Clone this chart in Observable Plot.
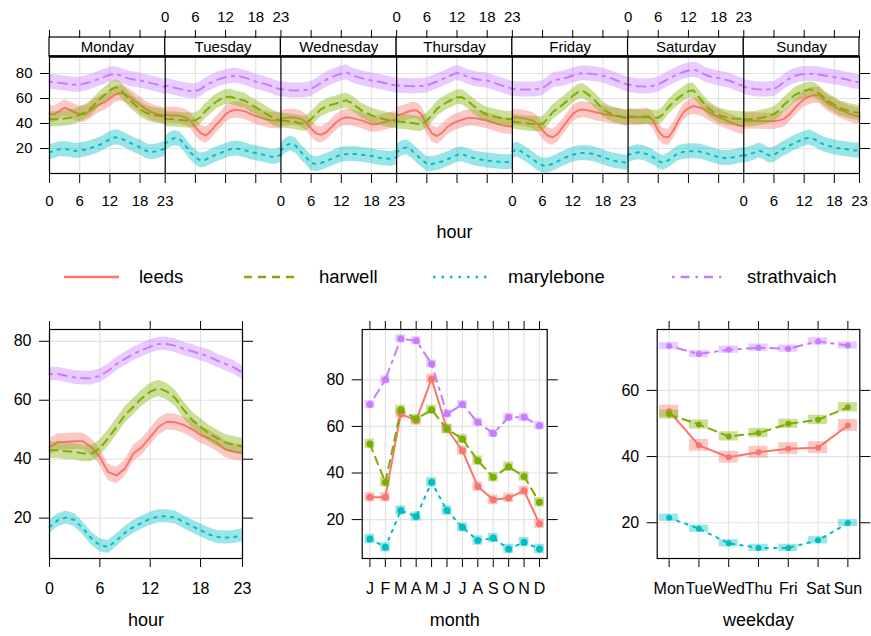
<!DOCTYPE html>
<html><head><meta charset="utf-8">
<script src="https://cdn.jsdelivr.net/npm/d3@7"></script>
<script src="https://cdn.jsdelivr.net/npm/@observablehq/plot@0.6"></script>
<style>
body{margin:0;background:#fff;}
#wrap{position:relative;width:871px;height:636px;overflow:hidden;font-family:"Liberation Sans",Arial,sans-serif;color:#000;}
#legend .item{position:absolute;top:266px;height:22px;display:flex;align-items:center;font-size:18.5px;line-height:22px;white-space:nowrap;}
#legend svg{margin-right:20px;}
</style></head><body><div id="wrap"><div id="legend"></div></div>
<script>
// ---------- data ----------
const series = ["leeds", "harwell", "marylebone", "strathvaich"];
const seriesColors = ["#F8766D", "#7CAE00", "#00BFC4", "#C77CFF"];
const seriesDash = [undefined, "8,6", "2.5,6", "2.5,6,9,6"];
const dayNames = ["Monday", "Tuesday", "Wednesday", "Thursday", "Friday", "Saturday", "Sunday"];
const hourTicks = [0, 6, 12, 18, 23];
const monthLabels = ["J", "F", "M", "A", "M", "J", "J", "A", "S", "O", "N", "D"];
const weekdayLabels = ["Mon", "Tue", "Wed", "Thu", "Fri", "Sat", "Sun"];

// day.hour means, one row per weekday (Mon..Sun), 24 hours each
const leedsDayHour = [
 [47.5,47.5,50,52.5,51,49,47.5,47.5,50,53,55.5,57,60,63,64.5,63.5,61,58,55,52,49.5,48,47,46],
 [47,46.5,46.5,46,45,42.5,37,32.5,30.5,33.5,38.5,42.5,47.5,50,51,50.5,49.5,47.5,46,44.5,43.5,42.5,42.5,42],
 [43.7,44.5,45,44.5,43.7,41,36,32,31,33,37,41,43.7,45,44.5,43.5,42.5,41,39.5,39.5,40.5,41.5,42.5,43.5],
 [46.4,47.5,49,50.4,50.4,47,38.5,32,30,32.5,37,39.7,41.6,43,44.3,44.5,44,43.2,42.4,41,39.7,38.5,37.9,37.5],
 [45,44.7,44.3,43.5,42.4,39.7,34.4,30.4,29,31.7,37,42.4,47.7,50.4,51.2,50.5,49.6,48.6,47.7,47,46.4,45.7,45,44.3],
 [45,45,45,45.5,45.9,42.4,34,29.5,29,34.4,42.4,49,52.3,54,53,51.7,49,47,45,43.3,41.6,40,38.4,37.8],
 [41.8,42,42.2,42,41.8,41.8,41.8,42.5,43.7,47,51.7,56,59.7,61.5,62.7,62.5,58.5,55.5,53.5,51,49.6,47.7,46.4,45.8]
];
const harwellDayHour = [
 [43.5,43.5,43.5,44,44.5,45.5,47,49,51.5,55.5,59.5,63,66.5,69,68,63,58.5,55,51.5,49,47.5,46.5,46,45],
 [43.7,43.5,43.2,42.8,42.4,42.4,42.4,45,50,53.5,57,59.5,61,61.5,60,59,58,55,53,50.5,48,45.5,43.5,42.4],
 [42.4,42,41.6,41,40,40,43.5,47.5,51.5,53.5,55,56,57.5,58.5,56.5,53.5,50.5,48.5,46.5,45,44,43,42.4,41.8],
 [41.6,41.3,41,40.5,39.8,39.7,42.4,46.4,51.7,54.5,57,59,61,61,58.5,55,51.7,49,47,46,45,44.3,43.7,43.7],
 [41.6,41,40.5,40,39.7,39.5,39.7,43.7,49,52,55,58.5,62,65,66,63.5,60,56,51.5,49,47,46,45,44.3],
 [45.8,45.5,45,45,45,44.7,44.5,47.5,53,57,60.5,63.5,66,66.5,61.5,56.5,52,49,46.7,45.5,44.5,44,43.7,43.5],
 [43.5,43.5,43.7,44.2,45,46,47.5,50.5,55,58.5,62.4,64.5,66,67.3,66.8,64,60.5,57.5,55,52.5,51.2,50,49,48.5]
];
const maryleboneDayHour = [
 [17,18,19.5,19.5,19,18,18.5,19,20.3,21.5,23,25,27.5,29,28.5,26.5,24.5,22.5,21,18.5,17,17.5,18.5,20],
 [24,27,28.5,27,22.5,17,13,10.5,11,13,15,16.5,18,19.5,20,19.5,18.5,17,16.5,15.5,14.5,13.5,13.5,15],
 [18.5,22.5,24,22,17,13,8.5,7.5,8.5,10,11.7,13.5,15,15.5,15.7,15.5,15,14.5,14,13,12.3,12,11.7,13],
 [17,20,21,18.5,14.5,11.2,7.7,7.7,8.5,9.6,11.2,13,14.8,15.5,14,12.8,11.7,11,10.4,10,9.6,9.3,9.1,9.5],
 [17.6,19.2,17,14.4,11.7,8.5,6.4,6.5,7.7,9.7,11.7,13.5,15,16,16.5,16.2,15.7,14.4,13,11.7,10.4,9.7,9.1,8.5],
 [15,16,17,16.5,15,13,10,8.5,10.5,13.5,16.5,17.3,17.8,17.8,17.7,16.8,15.7,14.3,13,12.5,12.5,13,14,14.7],
 [14,15.5,16.5,18.4,17,14.5,15,17.5,20,22,24.5,26,27.7,28.8,27.5,25,23,22,21,20,19.7,19,18.4,18.4]
];
const strathvaichDayHour = [
 [73.5,73,72.5,72,71.5,71,71,72,73,74.5,76,77.5,79,79.5,78.5,77,75.7,75,74.5,73.5,72.5,71.5,70.5,69],
 [70.4,69.5,68.5,67.5,66.7,66,65.8,67.5,70.4,72.5,74.4,76,77,77.8,78.2,77.5,76.5,75,73.5,72.5,71.5,70,68.5,67],
 [67.5,67,66.5,66.4,66.4,66.8,67.7,70,72.5,75,77,78.5,80,81,79,77.5,76.3,75.3,74.4,73.7,73,72,71,70.4],
 [70.4,70.2,70,69.9,69.9,70,70.4,72,73.6,75.3,77,79,80.5,79.5,77.5,76.2,75.2,74.8,74.4,73,71.7,70.3,69,67.7],
 [67.7,67.5,67.2,67.2,67.2,67.6,68.3,71,74.4,75.2,75.7,77,78.4,79.5,80.3,80,79.7,79,78.2,77,75.7,74,72.5,71],
 [71,70.5,69.8,69.7,69.7,70.2,71.3,73.5,75.7,77.7,79.7,81.2,82.4,83,82,79.7,78,77,76.3,75.3,74.4,72.8,71.2,70],
 [69.2,68.5,67.7,67.3,67.2,67.3,67.7,70,73.4,75.8,77.9,79,79.7,79.8,79.7,79.2,78.4,77.7,77,76.4,75.7,74.6,73.6,73]
];

// hour means
const leedsHour = [44.1,45.8,45.9,46.1,46.1,44.1,40.7,35.6,34.5,36.8,41.9,44.1,47.5,51,52.7,52.5,51.6,50.1,48.2,47.1,45.4,43.3,42.5,42.2];
const harwellHour = [43,43,42.7,42.5,41.9,41.9,43.7,47.1,51,55,57.8,60.7,62.9,64.1,62.9,60.7,56.7,53.3,51,48.8,47.1,45.6,44.8,44.3];
const maryleboneHour = [17,19.3,20.2,19.3,16.5,13.1,10.8,10.2,12.5,15,17,18.4,19.8,20.6,20.6,20.2,18.7,17.2,15.9,14.5,13.6,13.4,13.6,14.2];
const strathvaichHour = [68.9,68.9,68.3,67.7,67.5,67.5,68.3,70,72.3,74,75.7,77,78.2,79.1,79.1,78.5,77.4,76.6,75.7,74.8,73.4,72.3,71.1,69.4];

// month means
const leedsMonth = [29.6,29.6,65.4,62.5,80.4,58.9,49.6,34.2,28.5,29.3,32.4,18.2];
const harwellMonth = [52.5,36,67.1,63.2,67.1,58.9,54.6,45.3,38.2,42.7,38.5,27.4];
const maryleboneMonth = [11.7,8.1,23.9,21.3,36,23.9,16.7,11,12.1,7.4,10.3,7.4];
const strathvaichMonth = [69.4,80,97.6,96.8,86.8,65.4,69.4,61.8,57,63.9,63.9,60.3];

// weekday means
const leedsWeekday = [53.7,43.4,39.8,41.3,42.4,42.7,49.4];
const harwellWeekday = [52.7,49.7,46.1,47.1,49.9,51.1,54.9];
const maryleboneWeekday = [21.5,18.2,13.8,12.4,12.4,14.7,19.9];
const strathvaichWeekday = [73.4,71,72.3,72.9,72.6,74.8,73.6];

// confidence half-widths per series
const ciDayHour = [6.5, 6, 6, 6];
const ciHour = [2.8, 2.8, 2.2, 2.3];
const ciMonth = [2, 2, 2, 1.7];
const ciWeekday = [1.8, 1.4, 1.1, 1.1];

// ---------- build ----------
const GRID = "#e3e3e3";
const FONT = '"Liberation Sans", Arial, sans-serif';
const HSPAN = 23;
const wrap = document.getElementById("wrap");

function place(svg, left, top) {
  svg.style.position = "absolute";
  svg.style.left = left + "px";
  svg.style.top = top + "px";
  svg.style.background = "transparent";
  svg.style.overflow = "visible";
  svg.style.fontFamily = FONT;
  svg.style.maxWidth = "none";
  wrap.appendChild(svg);
}

const dayHourAll = [leedsDayHour, harwellDayHour, maryleboneDayHour, strathvaichDayHour];
const topRows = series.flatMap((s, si) => dayHourAll[si].flatMap((vals, d) =>
  vals.map((v, h) => ({si, d, x: d * HSPAN + h, v, lo: v - ciDayHour[si], hi: v + ciDayHour[si]}))));

const allTopTicks = Array.from(new Set(d3.range(7).flatMap(d => hourTicks.map(h => d * HSPAN + h))));
function labelMap(days) {
  const m = new Map();
  days.forEach(d => hourTicks.forEach(h => m.set(d * HSPAN + h, String(h))));
  return m;
}
const bottomLab = labelMap([0, 2, 4, 6]);
const topLab = labelMap([1, 3, 5]);
const gridTop = d3.range(7).flatMap(d => [6, 12, 18].map(h => d * HSPAN + h));
const ticksTopY = [20, 40, 60, 80];

const topMain = Plot.plot({
  width: 871, height: 250, marginLeft: 49, marginRight: 12, marginTop: 56, marginBottom: 77,
  x: {domain: [0, 7 * HSPAN], axis: null}, y: {domain: [0, 93.6], axis: null},
  marks: [
    Plot.ruleX(gridTop, {x: d => d, stroke: GRID, strokeWidth: 1.2}),
    Plot.ruleY(ticksTopY, {y: d => d, stroke: GRID, strokeWidth: 1.2}),
    ...series.flatMap((s, si) => {
      const rows = topRows.filter(r => r.si === si);
      return [
        Plot.areaY(rows, {x: r => r.x, y1: r => r.lo, y2: r => r.hi, z: r => r.d, fill: seriesColors[si], fillOpacity: 0.4}),
        Plot.line(rows, {x: r => r.x, y: r => r.v, z: r => r.d, stroke: seriesColors[si], strokeWidth: 2, strokeDasharray: seriesDash[si]})
      ];
    }),
    Plot.ruleX(d3.range(1, 7), {x: d => d * HSPAN, stroke: "#000", strokeWidth: 1.2}),
    Plot.frame({stroke: "#000", strokeWidth: 1.2}),
    Plot.axisX({anchor: "bottom", ticks: allTopTicks, tickSize: 10, tickPadding: 12, tickFormat: v => bottomLab.get(v) ?? "", fontSize: 15, label: null, color: "#000"}),
    Plot.axisY({anchor: "left", ticks: ticksTopY, tickSize: 9, tickPadding: 8, fontSize: 15, label: null, color: "#000"}),
    Plot.axisY({anchor: "right", ticks: ticksTopY, tickSize: 10, tickFormat: () => "", label: null, color: "#000"}),
    Plot.text(["hour"], {frameAnchor: "bottom", dy: 64, text: d => d, fontSize: 18, fill: "#000"})
  ]
});
place(topMain, 0, 0);

const strip = Plot.plot({
  width: 871, height: 58, marginLeft: 49, marginRight: 12, marginTop: 37, marginBottom: 2,
  x: {domain: [0, 7 * HSPAN], axis: null}, y: {domain: [0, 1], axis: null},
  marks: [
    Plot.rect(d3.range(7), {x1: d => d * HSPAN, x2: d => (d + 1) * HSPAN, y1: 0, y2: 1, fill: "white", stroke: "#000", strokeWidth: 1.2}),
    Plot.text(d3.range(7), {x: d => d * HSPAN + HSPAN / 2, y: 0.5, text: d => dayNames[d], fontSize: 15, fill: "#000"}),
    Plot.ruleY([0], {stroke: "#000", strokeWidth: 2.5}),
    Plot.axisX({anchor: "top", ticks: allTopTicks, tickSize: 8, tickPadding: 8, tickFormat: v => topLab.get(v) ?? "", fontSize: 15, label: null, color: "#000"})
  ]
});
place(strip, 0, 0);

// legend
const legend = document.getElementById("legend");
const legendLefts = [64, 244, 433, 672];
series.forEach((s, si) => {
  const item = document.createElement("div");
  item.className = "item";
  item.style.left = legendLefts[si] + "px";
  const dash = seriesDash[si] ? ` stroke-dasharray="${seriesDash[si]}"` : "";
  item.innerHTML = `<svg width="55" height="10"><line x1="0" x2="55" y1="5" y2="5" stroke="${seriesColors[si]}" stroke-width="2.5"${dash}/></svg><span>${s}</span>`;
  legend.appendChild(item);
});

// bottom panels
function bottomPanel({left, width, marginLeft, marginRight, xDomain, yDomain, xTicks, xFormat, yTicks, title, rowsFor, kind, ci, rectHalf, dotR}) {
  const marks = [
    Plot.ruleX(xTicks, {x: d => d, stroke: GRID, strokeWidth: 1.2}),
    Plot.ruleY(yTicks, {y: d => d, stroke: GRID, strokeWidth: 1.2})
  ];
  series.forEach((s, si) => {
    const rows = rowsFor(si).map(r => ({...r, lo: r.v - ci[si], hi: r.v + ci[si]}));
    if (kind === "band") {
      marks.push(Plot.areaY(rows, {x: r => r.x, y1: r => r.lo, y2: r => r.hi, fill: seriesColors[si], fillOpacity: 0.4}));
    } else {
      marks.push(Plot.rect(rows, {x1: r => r.x - rectHalf, x2: r => r.x + rectHalf, y1: r => r.lo, y2: r => r.hi, fill: seriesColors[si], fillOpacity: 0.4}));
    }
    marks.push(Plot.line(rows, {x: r => r.x, y: r => r.v, stroke: seriesColors[si], strokeWidth: 2, strokeDasharray: seriesDash[si]}));
    if (kind !== "band") marks.push(Plot.dot(rows, {x: r => r.x, y: r => r.v, r: dotR, fill: seriesColors[si], stroke: "none"}));
  });
  marks.push(
    Plot.frame({stroke: "#000", strokeWidth: 1.2}),
    Plot.axisX({anchor: "bottom", ticks: xTicks, tickSize: 9, tickPadding: 15, tickFormat: xFormat, fontSize: 16, label: null, color: "#000"}),
    Plot.axisX({anchor: "top", ticks: xTicks, tickSize: 9, tickFormat: () => "", label: null, color: "#000"}),
    Plot.axisY({anchor: "left", ticks: yTicks, tickSize: 10, tickPadding: 8, fontSize: 16, label: null, color: "#000"}),
    Plot.axisY({anchor: "right", ticks: yTicks, tickSize: 10, tickFormat: () => "", label: null, color: "#000"}),
    Plot.text([title], {frameAnchor: "bottom", dy: 67, text: d => d, fontSize: 18, fill: "#000"})
  );
  const p = Plot.plot({
    width, height: 336, marginLeft, marginRight, marginTop: 29, marginBottom: 78,
    x: {domain: xDomain, axis: null}, y: {domain: yDomain, axis: null}, marks
  });
  place(p, left, 300);
}

const hourAll = [leedsHour, harwellHour, maryleboneHour, strathvaichHour];
const monthAll = [leedsMonth, harwellMonth, maryleboneMonth, strathvaichMonth];
const weekdayAll = [leedsWeekday, harwellWeekday, maryleboneWeekday, strathvaichWeekday];

bottomPanel({
  left: 0, width: 290, marginLeft: 49, marginRight: 48,
  xDomain: [0, 23], yDomain: [6.3, 84], xTicks: hourTicks, xFormat: d => String(d), yTicks: [20, 40, 60, 80],
  title: "hour", kind: "band", ci: ciHour,
  rowsFor: si => hourAll[si].map((v, h) => ({x: h, v}))
});
bottomPanel({
  left: 290, width: 290, marginLeft: 71.7, marginRight: 33.3,
  xDomain: [0.5, 12.5], yDomain: [3.3, 101.6], xTicks: d3.range(1, 13), xFormat: d => monthLabels[d - 1], yTicks: [20, 40, 60, 80],
  title: "month", kind: "rect", ci: ciMonth, rectHalf: 0.32, dotR: 3.5,
  rowsFor: si => monthAll[si].map((v, m) => ({x: m + 1, v}))
});
bottomPanel({
  left: 580, width: 291, marginLeft: 76.7, marginRight: 11.7,
  xDomain: [0.6, 7.4], yDomain: [9.2, 78.4], xTicks: d3.range(1, 8), xFormat: d => weekdayLabels[d - 1], yTicks: [20, 40, 60],
  title: "weekday", kind: "rect", ci: ciWeekday, rectHalf: 0.32, dotR: 3,
  rowsFor: si => weekdayAll[si].map((v, d) => ({x: d + 1, v}))
});
</script></body></html>
